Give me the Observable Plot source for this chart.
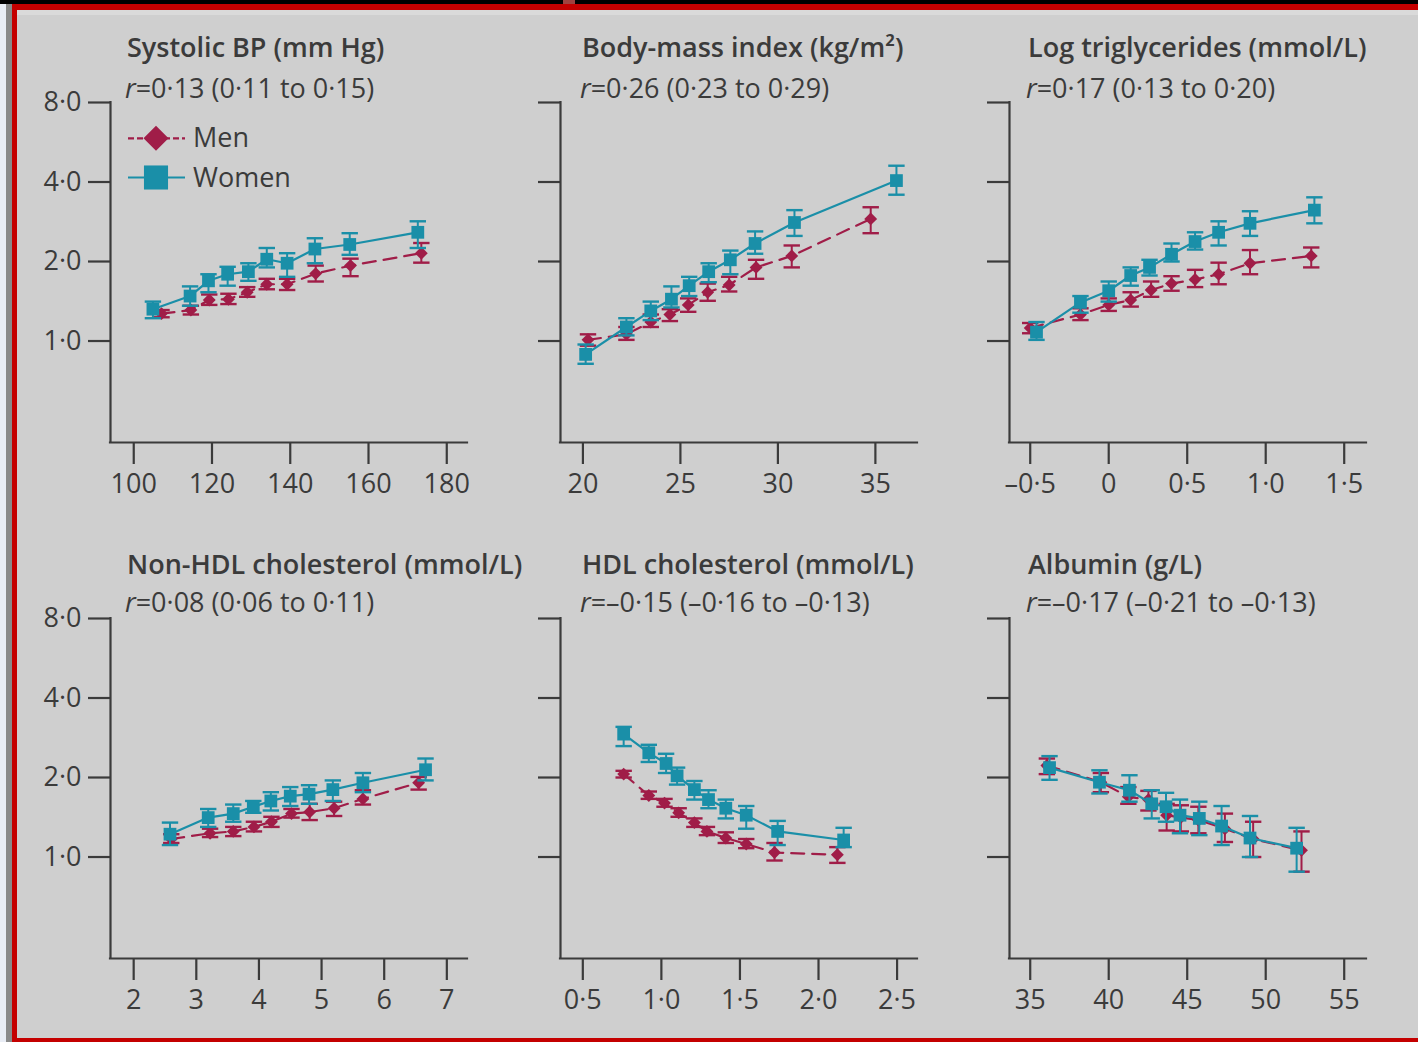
<!DOCTYPE html>
<html>
<head>
<meta charset="utf-8">
<script src="https://cdn.jsdelivr.net/npm/d3@7"></script>
<script src="https://cdn.jsdelivr.net/npm/@observablehq/plot@0.6"></script>
<style>
  html, body { margin: 0; padding: 0; background: #e9edf5; }
  #page { position: relative; width: 1418px; height: 1042px; overflow: hidden; background: #e9edf5; }
  #topbar { position: absolute; left: 0; top: 0; width: 1418px; height: 4px; background: #000; }
  #notch { position: absolute; left: 563px; top: 0; width: 12px; height: 4px; background: #a0423f; }
  #edge { position: absolute; left: 6px; top: 4px; width: 6px; height: 1038px; background: #8a8a8a; }
  #frame { position: absolute; left: 12px; top: 4px; width: 1406px; height: 1038px; box-sizing: border-box;
           border-top: 6px solid #c40000; border-left: 5px solid #c40000; border-bottom: 4px solid #c40000;
           background: #cfcfcf; }
  #frame::before { content: ""; position: absolute; left: 0; right: 0; top: 0; height: 5px; background: #dadada; }
  .panel { position: absolute; }
  #overlay { position: absolute; left: 0; top: 0; pointer-events: none; }
</style>
</head>
<body>
<div id="page">
  <div id="topbar"></div>
  <div id="notch"></div>
  <div id="edge"></div>
  <div id="frame"></div>
</div>
<script>
// Each row: [exposure level, hazard ratio, lower 95% CI, upper 95% CI]
const sbpMen = [
  [107.1, 1.27, 1.23, 1.31], [114.6, 1.31, 1.26, 1.36], [119.3, 1.43, 1.37, 1.50],
  [124.2, 1.44, 1.38, 1.51], [129.0, 1.53, 1.47, 1.60], [134.0, 1.64, 1.57, 1.72],
  [139.2, 1.64, 1.56, 1.72], [146.5, 1.80, 1.68, 1.93], [155.4, 1.93, 1.76, 2.05],
  [173.5, 2.15, 1.98, 2.35]
];
const sbpWomen = [
  [104.9, 1.32, 1.22, 1.41], [114.4, 1.48, 1.36, 1.61], [119.1, 1.69, 1.53, 1.79],
  [124.0, 1.79, 1.62, 1.91], [129.3, 1.83, 1.69, 1.97], [134.0, 2.04, 1.90, 2.25],
  [139.2, 1.97, 1.75, 2.15], [146.3, 2.23, 1.97, 2.45], [155.2, 2.32, 2.12, 2.56],
  [172.6, 2.58, 2.25, 2.84]
];
const bmiMen = [
  [20.26, 1.01, 0.96, 1.06], [22.23, 1.06, 1.01, 1.13], [23.48, 1.18, 1.13, 1.26],
  [24.46, 1.26, 1.19, 1.32], [25.40, 1.37, 1.29, 1.45], [26.40, 1.53, 1.42, 1.65],
  [27.50, 1.63, 1.54, 1.75], [28.88, 1.90, 1.72, 2.03], [30.71, 2.10, 1.90, 2.30],
  [34.76, 2.90, 2.56, 3.21]
];
const bmiWomen = [
  [20.14, 0.89, 0.82, 0.97], [22.23, 1.13, 1.05, 1.22], [23.48, 1.30, 1.20, 1.41],
  [24.54, 1.44, 1.34, 1.61], [25.45, 1.62, 1.48, 1.75], [26.45, 1.83, 1.67, 1.97],
  [27.56, 2.03, 1.79, 2.20], [28.83, 2.34, 2.14, 2.60], [30.85, 2.81, 2.50, 3.13],
  [36.08, 4.05, 3.58, 4.61]
];
const tgMen = [
  [-0.50, 1.12, 1.07, 1.17], [-0.18, 1.26, 1.20, 1.33], [0.00, 1.37, 1.30, 1.45],
  [0.14, 1.43, 1.35, 1.53], [0.27, 1.56, 1.47, 1.68], [0.40, 1.65, 1.55, 1.76],
  [0.55, 1.71, 1.60, 1.86], [0.70, 1.79, 1.64, 1.98], [0.90, 1.97, 1.79, 2.21],
  [1.29, 2.10, 1.90, 2.26]
];
const tgWomen = [
  [-0.46, 1.08, 1.01, 1.18], [-0.18, 1.40, 1.28, 1.48], [0.00, 1.55, 1.41, 1.68],
  [0.14, 1.77, 1.62, 1.90], [0.26, 1.90, 1.77, 2.03], [0.40, 2.13, 2.00, 2.34],
  [0.55, 2.38, 2.22, 2.58], [0.70, 2.58, 2.30, 2.84], [0.90, 2.79, 2.50, 3.10],
  [1.31, 3.13, 2.79, 3.50]
];
const nonHdlMen = [
  [2.60, 1.17, 1.13, 1.22], [3.22, 1.23, 1.19, 1.28], [3.59, 1.25, 1.20, 1.30],
  [3.92, 1.30, 1.25, 1.36], [4.20, 1.36, 1.30, 1.42], [4.52, 1.46, 1.41, 1.52],
  [4.81, 1.48, 1.38, 1.59], [5.20, 1.53, 1.43, 1.62], [5.66, 1.66, 1.58, 1.79],
  [6.55, 1.91, 1.80, 2.01]
];
const nonHdlWomen = [
  [2.58, 1.22, 1.11, 1.35], [3.19, 1.41, 1.30, 1.52], [3.59, 1.46, 1.36, 1.58],
  [3.91, 1.55, 1.47, 1.63], [4.19, 1.63, 1.50, 1.76], [4.50, 1.70, 1.56, 1.84],
  [4.80, 1.73, 1.59, 1.87], [5.18, 1.80, 1.63, 1.95], [5.66, 1.91, 1.76, 2.08],
  [6.66, 2.14, 1.95, 2.36]
];
const hdlMen = [
  [0.76, 2.06, 2.00, 2.12], [0.92, 1.71, 1.66, 1.77], [1.02, 1.60, 1.55, 1.66],
  [1.11, 1.47, 1.42, 1.53], [1.21, 1.35, 1.30, 1.40], [1.29, 1.25, 1.21, 1.30],
  [1.41, 1.18, 1.13, 1.24], [1.54, 1.12, 1.08, 1.17], [1.72, 1.04, 0.97, 1.13],
  [2.12, 1.02, 0.95, 1.09]
];
const hdlWomen = [
  [0.76, 2.92, 2.63, 3.11], [0.92, 2.48, 2.29, 2.66], [1.03, 2.26, 2.08, 2.46],
  [1.10, 2.03, 1.88, 2.18], [1.21, 1.80, 1.65, 1.94], [1.30, 1.65, 1.53, 1.79],
  [1.41, 1.53, 1.40, 1.65], [1.54, 1.44, 1.28, 1.56], [1.74, 1.25, 1.11, 1.37],
  [2.16, 1.16, 1.09, 1.29]
];
const albuminMen = [
  [36.06, 2.22, 2.06, 2.36], [39.50, 1.92, 1.76, 2.08], [41.25, 1.69, 1.59, 1.84],
  [42.53, 1.65, 1.50, 1.78], [43.69, 1.44, 1.26, 1.59], [44.59, 1.41, 1.25, 1.57],
  [45.71, 1.38, 1.23, 1.55], [47.40, 1.28, 1.14, 1.46], [49.20, 1.17, 1.00, 1.36],
  [52.28, 1.06, 0.88, 1.25]
];
const albuminWomen = [
  [36.23, 2.18, 1.96, 2.41], [39.41, 1.92, 1.74, 2.13], [41.32, 1.79, 1.62, 2.04],
  [42.74, 1.59, 1.40, 1.79], [43.65, 1.55, 1.36, 1.75], [44.54, 1.44, 1.23, 1.65],
  [45.77, 1.40, 1.21, 1.62], [47.19, 1.31, 1.11, 1.56], [49.00, 1.18, 1.00, 1.43],
  [51.97, 1.08, 0.88, 1.29]
];

const yTicks = [1, 2, 4, 8];
const sbpTicks = [100, 120, 140, 160, 180];
const bmiTicks = [20, 25, 30, 35];
const tgTicks = [-0.5, 0, 0.5, 1.0, 1.5];
const nonHdlTicks = [2, 3, 4, 5, 6, 7];
const hdlTicks = [0.5, 1.0, 1.5, 2.0, 2.5];
const albuminTicks = [35, 40, 45, 50, 55];

const panelTitles = [
  "Systolic BP (mm Hg)", "Body-mass index (kg/m²)", "Log triglycerides (mmol/L)",
  "Non-HDL cholesterol (mmol/L)", "HDL cholesterol (mmol/L)", "Albumin (g/L)"
];
const panelStats = [
  "0·13 (0·11 to 0·15)", "0·26 (0·23 to 0·29)", "0·17 (0·13 to 0·20)",
  "0·08 (0·06 to 0·11)", "–0·15 (–0·16 to –0·13)", "–0·17 (–0·21 to –0·13)"
];
const seriesNames = ["Men", "Women"];

const MEN = "#a01d48";
const WOMEN = "#1a8fa8";
const INK = "#3b3b3b";
const FONT = "'Open Sans', 'Noto Sans', sans-serif";
const FS = 27;

const Y_MIN = 0.4128, Y_MAX = 8;
const dotFmt = d => d3.format(".1f")(d).replace(".", "·").replace("−", "–");
const zeroDotFmt = d => d === 0 ? "0" : dotFmt(d);
const intFmt = d => String(d);

// horizontal bar used as error-bar cap
const capSymbol = {
  draw(ctx, size) {
    const r = Math.sqrt(size / Math.PI);
    ctx.moveTo(-r, 0);
    ctx.lineTo(r, 0);
  }
};

const rows = rs => rs.map(([x, v, lo, hi]) => ({x, v, lo, hi}));

function seriesMarks(data, color, symbol, r, dash) {
  return [
    Plot.line(data, {x: "x", y: "v", stroke: color, strokeWidth: 2.2, strokeDasharray: dash}),
    Plot.ruleX(data, {x: "x", y1: "lo", y2: "hi", stroke: color, strokeWidth: 2}),
    Plot.dot(data, {x: "x", y: "lo", symbol: capSymbol, r: 8.2, fill: "none", stroke: color, strokeWidth: 2.4}),
    Plot.dot(data, {x: "x", y: "hi", symbol: capSymbol, r: 8.2, fill: "none", stroke: color, strokeWidth: 2.4}),
    Plot.dot(data, {x: "x", y: "v", symbol, r, fill: color, stroke: "none"})
  ];
}

const M = {left: 100, top: 20, right: 24, bottom: 70};
const W = 357, H = 340;
const colX = [110, 560, 1009.3];
const rowY = [101.7, 618.3];

function panel({men, women, xDomain, xTicks, xFormat, yLabels, col, row}) {
  const svg = Plot.plot({
    width: M.left + W + M.right,
    height: M.top + H + M.bottom,
    marginLeft: M.left, marginTop: M.top, marginRight: M.right, marginBottom: M.bottom,
    style: {background: "transparent", fontFamily: FONT, fontSize: FS + "px", color: INK, overflow: "visible"},
    x: {domain: xDomain},
    y: {type: "log", domain: [Y_MIN, Y_MAX]},
    marks: [
      Plot.axisY({ticks: yTicks, tickSize: 22, strokeWidth: 2.2, label: null, tickFormat: () => ""}),
      yLabels ? Plot.text(yTicks, {y: d => d, frameAnchor: "left", dx: -29, textAnchor: "end",
                                   text: dotFmt, fill: INK, fontSize: FS}) : null,
      Plot.axisX({ticks: xTicks, tickSize: 22, tickPadding: 9, strokeWidth: 2.2, label: null,
                  tickFormat: xFormat}),
      Plot.ruleX([xDomain[0]], {y1: Y_MIN, y2: Y_MAX, stroke: INK, strokeWidth: 2.2, strokeLinecap: "square"}),
      Plot.ruleY([Y_MIN], {x1: xDomain[0], x2: xDomain[1], stroke: INK, strokeWidth: 2.2, strokeLinecap: "square"}),
      ...seriesMarks(rows(men), MEN, "diamond2", 5.8, "13,8"),
      ...seriesMarks(rows(women), WOMEN, "square", 7.2, null)
    ]
  });
  svg.classList.add("panel");
  svg.style.left = (colX[col] - M.left) + "px";
  svg.style.top = (rowY[row] - M.top) + "px";
  document.getElementById("page").appendChild(svg);
}

panel({men: sbpMen, women: sbpWomen, xDomain: [94.06, 185.3], xTicks: sbpTicks, xFormat: intFmt, yLabels: true, col: 0, row: 0});
panel({men: bmiMen, women: bmiWomen, xDomain: [18.85, 37.16], xTicks: bmiTicks, xFormat: intFmt, yLabels: false, col: 1, row: 0});
panel({men: tgMen, women: tgWomen, xDomain: [-0.632, 1.642], xTicks: tgTicks, xFormat: zeroDotFmt, yLabels: false, col: 2, row: 0});
panel({men: nonHdlMen, women: nonHdlWomen, xDomain: [1.63, 7.33], xTicks: nonHdlTicks, xFormat: intFmt, yLabels: true, col: 0, row: 1});
panel({men: hdlMen, women: hdlWomen, xDomain: [0.358, 2.63], xTicks: hdlTicks, xFormat: dotFmt, yLabels: false, col: 1, row: 1});
panel({men: albuminMen, women: albuminWomen, xDomain: [33.68, 56.42], xTicks: albuminTicks, xFormat: intFmt, yLabels: false, col: 2, row: 1});

// Panel headings and the legend
const overlay = d3.select("#page").append("svg")
  .attr("id", "overlay").attr("width", 1418).attr("height", 1042)
  .style("font-family", FONT).style("fill", INK);

const titleX = [[127, 582, 1028], [127, 582, 1028]];
const titleBase = [57, 573.5];
const statBase = [97.5, 612];
panelTitles.forEach((t, i) => {
  const row = Math.floor(i / 3), col = i % 3;
  overlay.append("text").attr("x", titleX[row][col]).attr("y", titleBase[row])
    .attr("font-size", FS).attr("font-weight", 600).text(t);
  const s = overlay.append("text").attr("x", titleX[row][col] - 2).attr("y", statBase[row]).attr("font-size", FS);
  s.append("tspan").attr("font-style", "italic").text("r");
  s.append("tspan").text("=" + panelStats[i]);
});

const legend = overlay.append("g");
const legendRows = [
  {name: seriesNames[0], color: MEN, dash: "6,3", y: 138.3, shape: d3.symbolDiamond2, size: 400},
  {name: seriesNames[1], color: WOMEN, dash: null, y: 177.5, shape: d3.symbolSquare, size: 580}
];
legendRows.forEach(d => {
  legend.append("line").attr("x1", 128).attr("x2", 185).attr("y1", d.y).attr("y2", d.y)
    .attr("stroke", d.color).attr("stroke-width", 2.2).attr("stroke-dasharray", d.dash);
  legend.append("path").attr("transform", `translate(156,${d.y})`)
    .attr("d", d3.symbol(d.shape, d.size)()).attr("fill", d.color);
  legend.append("text").attr("x", 193).attr("y", d.y + 9).attr("font-size", FS).text(d.name);
});
</script>
</body>
</html>
